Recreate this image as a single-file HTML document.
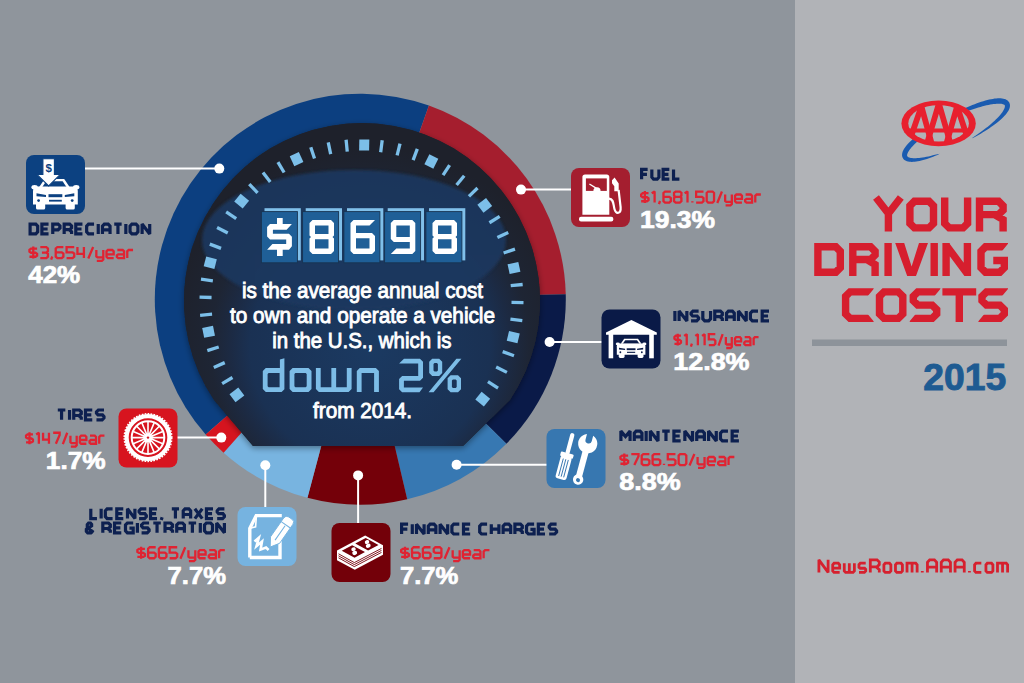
<!DOCTYPE html>
<html><head><meta charset="utf-8"><style>html,body{margin:0;padding:0;background:#8f959c;overflow:hidden}svg{display:block}</style></head>
<body><svg width="1024" height="683" viewBox="0 0 1024 683"><rect x="0" y="0" width="795" height="683" fill="#8f959c"/>
<rect x="795" y="0" width="229" height="683" fill="#b1b3b7"/>
<path d="M360.30,299.20 L205.68,434.56 A205.5,205.5 0 0 1 428.90,105.49 Z" fill="#0c3f80"/>
<path d="M360.30,299.20 L428.90,105.49 A205.5,205.5 0 0 1 565.74,294.18 Z" fill="#a51e2e"/>
<path d="M360.30,299.20 L565.74,294.18 A205.5,205.5 0 0 1 506.37,443.75 Z" fill="#0a1a48"/>
<path d="M360.30,299.20 L506.37,443.75 A205.5,205.5 0 0 1 407.23,499.27 Z" fill="#3778b2"/>
<path d="M360.30,299.20 L407.23,499.27 A205.5,205.5 0 0 1 307.46,497.79 Z" fill="#740009"/>
<path d="M360.30,299.20 L307.46,497.79 A205.5,205.5 0 0 1 223.60,452.63 Z" fill="#78b4e0"/>
<path d="M360.30,299.20 L223.60,452.63 A205.5,205.5 0 0 1 205.68,434.56 Z" fill="#d6141f"/>
<defs><filter id="sh" x="-20%" y="-20%" width="140%" height="140%"><feGaussianBlur in="SourceAlpha" stdDeviation="3"/><feOffset dx="0" dy="2"/><feComponentTransfer><feFuncA type="linear" slope="0.4"/></feComponentTransfer><feMerge><feMergeNode/><feMergeNode in="SourceGraphic"/></feMerge></filter><filter id="bl" x="-20%" y="-20%" width="140%" height="140%"><feGaussianBlur stdDeviation="5"/></filter><filter id="bl2" x="-20%" y="-20%" width="140%" height="140%"><feGaussianBlur stdDeviation="1.5"/></filter><clipPath id="dc"><path d="M253,446 L214.07,400.00 A178,178 0 1 1 509.93,400.00 L463,446 Z"/></clipPath></defs>
<defs><radialGradient id="dg" gradientUnits="userSpaceOnUse" cx="370" cy="347" r="200"><stop offset="0" stop-color="#1b3a62"/><stop offset="0.6" stop-color="#1a3153"/><stop offset="0.7" stop-color="#1c2a43"/><stop offset="0.8" stop-color="#1e2534"/><stop offset="1" stop-color="#1e212b"/></radialGradient></defs>
<path d="M253,446 L214.07,400.00 A178,178 0 1 1 509.93,400.00 L463,446 Z" fill="#1e212b" filter="url(#sh)"/>
<path d="M253,446 L214.07,400.00 A178,178 0 1 1 509.93,400.00 L463,446 Z" fill="url(#dg)"/>
<g clip-path="url(#dc)"><ellipse cx="354" cy="240" rx="152" ry="70" fill="#1c385e" opacity="0.92" filter="url(#bl2)"/></g>
<rect x="-5" y="-5.5" width="10" height="11" fill="#7cbfe9" transform="translate(236.91,394.88) rotate(-127.00)"/>
<rect x="-1.8" y="-6" width="3.3" height="12" fill="#7cbfe9" transform="translate(227.22,380.41) rotate(-120.60)"/>
<rect x="-1.8" y="-6" width="3.3" height="12" fill="#7cbfe9" transform="translate(219.21,364.95) rotate(-114.20)"/>
<rect x="-1.8" y="-6" width="3.3" height="12" fill="#7cbfe9" transform="translate(212.97,348.69) rotate(-107.80)"/>
<rect x="-5" y="-5.5" width="10" height="11" fill="#7cbfe9" transform="translate(208.58,331.83) rotate(-101.40)"/>
<rect x="-1.8" y="-6" width="3.3" height="12" fill="#7cbfe9" transform="translate(206.09,314.60) rotate(-95.00)"/>
<rect x="-1.8" y="-6" width="3.3" height="12" fill="#7cbfe9" transform="translate(205.55,297.19) rotate(-88.60)"/>
<rect x="-1.8" y="-6" width="3.3" height="12" fill="#7cbfe9" transform="translate(206.94,279.83) rotate(-82.20)"/>
<rect x="-5" y="-5.5" width="10" height="11" fill="#7cbfe9" transform="translate(210.27,262.73) rotate(-75.80)"/>
<rect x="-1.8" y="-6" width="3.3" height="12" fill="#7cbfe9" transform="translate(215.47,246.11) rotate(-69.40)"/>
<rect x="-1.8" y="-6" width="3.3" height="12" fill="#7cbfe9" transform="translate(222.50,230.18) rotate(-63.00)"/>
<rect x="-1.8" y="-6" width="3.3" height="12" fill="#7cbfe9" transform="translate(231.26,215.13) rotate(-56.60)"/>
<rect x="-5" y="-5.5" width="10" height="11" fill="#7cbfe9" transform="translate(241.65,201.14) rotate(-50.20)"/>
<rect x="-1.8" y="-6" width="3.3" height="12" fill="#7cbfe9" transform="translate(253.53,188.41) rotate(-43.80)"/>
<rect x="-1.8" y="-6" width="3.3" height="12" fill="#7cbfe9" transform="translate(266.75,177.07) rotate(-37.40)"/>
<rect x="-1.8" y="-6" width="3.3" height="12" fill="#7cbfe9" transform="translate(281.15,167.28) rotate(-31.00)"/>
<rect x="-5" y="-5.5" width="10" height="11" fill="#7cbfe9" transform="translate(296.56,159.16) rotate(-24.60)"/>
<rect x="-1.8" y="-6" width="3.3" height="12" fill="#7cbfe9" transform="translate(312.78,152.80) rotate(-18.20)"/>
<rect x="-1.8" y="-6" width="3.3" height="12" fill="#7cbfe9" transform="translate(329.60,148.30) rotate(-11.80)"/>
<rect x="-1.8" y="-6" width="3.3" height="12" fill="#7cbfe9" transform="translate(346.82,145.69) rotate(-5.40)"/>
<rect x="-5" y="-5.5" width="10" height="11" fill="#7cbfe9" transform="translate(364.22,145.02) rotate(1.00)"/>
<rect x="-1.8" y="-6" width="3.3" height="12" fill="#7cbfe9" transform="translate(381.59,146.30) rotate(7.40)"/>
<rect x="-1.8" y="-6" width="3.3" height="12" fill="#7cbfe9" transform="translate(398.71,149.50) rotate(13.80)"/>
<rect x="-1.8" y="-6" width="3.3" height="12" fill="#7cbfe9" transform="translate(415.37,154.60) rotate(20.20)"/>
<rect x="-5" y="-5.5" width="10" height="11" fill="#7cbfe9" transform="translate(431.35,161.51) rotate(26.60)"/>
<rect x="-1.8" y="-6" width="3.3" height="12" fill="#7cbfe9" transform="translate(446.46,170.17) rotate(33.00)"/>
<rect x="-1.8" y="-6" width="3.3" height="12" fill="#7cbfe9" transform="translate(460.52,180.45) rotate(39.40)"/>
<rect x="-1.8" y="-6" width="3.3" height="12" fill="#7cbfe9" transform="translate(473.34,192.24) rotate(45.80)"/>
<rect x="-5" y="-5.5" width="10" height="11" fill="#7cbfe9" transform="translate(484.76,205.39) rotate(52.20)"/>
<rect x="-1.8" y="-6" width="3.3" height="12" fill="#7cbfe9" transform="translate(494.65,219.72) rotate(58.60)"/>
<rect x="-1.8" y="-6" width="3.3" height="12" fill="#7cbfe9" transform="translate(502.88,235.07) rotate(65.00)"/>
<rect x="-1.8" y="-6" width="3.3" height="12" fill="#7cbfe9" transform="translate(509.35,251.24) rotate(71.40)"/>
<rect x="-5" y="-5.5" width="10" height="11" fill="#7cbfe9" transform="translate(513.98,268.03) rotate(77.80)"/>
<rect x="-1.8" y="-6" width="3.3" height="12" fill="#7cbfe9" transform="translate(516.70,285.24) rotate(84.20)"/>
<rect x="-1.8" y="-6" width="3.3" height="12" fill="#7cbfe9" transform="translate(517.49,302.63) rotate(90.60)"/>
<rect x="-1.8" y="-6" width="3.3" height="12" fill="#7cbfe9" transform="translate(516.34,320.01) rotate(97.00)"/>
<rect x="-5" y="-5.5" width="10" height="11" fill="#7cbfe9" transform="translate(513.25,337.15) rotate(103.40)"/>
<rect x="-1.8" y="-6" width="3.3" height="12" fill="#7cbfe9" transform="translate(508.28,353.84) rotate(109.80)"/>
<rect x="-1.8" y="-6" width="3.3" height="12" fill="#7cbfe9" transform="translate(501.47,369.87) rotate(116.20)"/>
<rect x="-1.8" y="-6" width="3.3" height="12" fill="#7cbfe9" transform="translate(492.92,385.05) rotate(122.60)"/>
<rect x="-5" y="-5.5" width="10" height="11" fill="#7cbfe9" transform="translate(482.73,399.17) rotate(129.00)"/>
<rect x="264.5" y="208.2" width="36.3" height="52.2" fill="#80c0ea"/>
<rect x="261.4" y="211.6" width="36" height="51.2" fill="#1f5f97" stroke="#173452" stroke-width="0.9"/>
<rect x="305.7" y="208.2" width="36.3" height="52.2" fill="#80c0ea"/>
<rect x="302.6" y="211.6" width="36" height="51.2" fill="#1f5f97" stroke="#173452" stroke-width="0.9"/>
<rect x="347.0" y="208.2" width="36.3" height="52.2" fill="#80c0ea"/>
<rect x="343.9" y="211.6" width="36" height="51.2" fill="#1f5f97" stroke="#173452" stroke-width="0.9"/>
<rect x="387.7" y="208.2" width="36.3" height="52.2" fill="#80c0ea"/>
<rect x="384.6" y="211.6" width="36" height="51.2" fill="#1f5f97" stroke="#173452" stroke-width="0.9"/>
<rect x="429.0" y="208.2" width="36.3" height="52.2" fill="#80c0ea"/>
<rect x="425.9" y="211.6" width="36" height="51.2" fill="#1f5f97" stroke="#173452" stroke-width="0.9"/>
<path d="M277,217.9 H282.7 V224.1 H291.9 L286.6,229.7 H272.9 V233.8 H289 L291.9,236.7 V246.3 L289,249.7 H282.7 V256.1 H277 V249.7 H267.1 L272.4,244 H286.2 V239.4 H270 L267.1,236.5 V227 L270,224.1 H277 ZM312.5,219.9 H331.0 L334.0,222.9 V235.4 L332.5,236.9 L334.0,238.4 V250.9 L331.0,253.9 H312.5 L309.5,250.9 V238.4 L311.0,236.9 L309.5,235.4 V222.9 ZM315.0,225.4 H328.5 V234.0 H315.0 ZM315.0,239.3 H328.5 V248.4 H315.0 ZM353.5,219.9 H375.0 L369.5,225.4 H356.0 V233.1 H372.0 L375.0,236.1 V250.9 L372.0,253.9 H353.5 L350.5,250.9 V222.9 ZM356.0,238.20000000000002 H369.5 V248.4 H356.0 ZM393.8,219.9 H412.3 L415.3,222.9 V250.9 L412.3,253.9 H390.8 L396.3,248.4 H409.8 V241.9 H393.8 L390.8,238.9 V222.9 ZM396.3,225.4 H409.8 V237.0 H396.3 ZM435.5,219.9 H454.0 L457.0,222.9 V235.4 L455.5,236.9 L457.0,238.4 V250.9 L454.0,253.9 H435.5 L432.5,250.9 V238.4 L434.0,236.9 L432.5,235.4 V222.9 ZM438.0,225.4 H451.5 V234.0 H438.0 ZM438.0,239.3 H451.5 V248.4 H438.0 Z" fill="#ffffff" fill-rule="evenodd"/>
<text x="241.9" y="297.7" font-family="Liberation Sans, sans-serif" font-size="22" font-weight="normal" fill="#fff" text-anchor="start" textLength="241.2" lengthAdjust="spacingAndGlyphs" stroke="#fff" stroke-width="0.9">is the average annual cost</text>
<text x="230" y="322.7" font-family="Liberation Sans, sans-serif" font-size="22" font-weight="normal" fill="#fff" text-anchor="start" textLength="265" lengthAdjust="spacingAndGlyphs" stroke="#fff" stroke-width="0.9">to own and operate a vehicle</text>
<text x="272.2" y="347.8" font-family="Liberation Sans, sans-serif" font-size="22" font-weight="normal" fill="#fff" text-anchor="start" textLength="179.3" lengthAdjust="spacingAndGlyphs" stroke="#fff" stroke-width="0.9">in the U.S., which is</text>
<text x="313" y="417.6" font-family="Liberation Sans, sans-serif" font-size="22" font-weight="normal" fill="#fff" text-anchor="start" textLength="99" lengthAdjust="spacingAndGlyphs" stroke="#fff" stroke-width="0.9">from 2014.</text>
<path d="M265.8,368.1 H279.9 V359.6 L284.4,358.2 V389.2 L281.6,392 H265.8 L262.8,389 V371.1 Z M268.6,372.9 H279.6 V387.2 H268.6 L267.6,386.2 V373.9 Z M292.6,368.1 H308.5 L311.5,371.1 V389 L308.5,392 H292.6 L289.6,389 V371.1 ZM295.40000000000003,372.90000000000003 H305.7 L306.7,373.90000000000003 V386.2 L305.7,387.2 H295.40000000000003 L294.40000000000003,386.2 V373.90000000000003 Z M315.9,368.1 H320.7 V387.2 H331.35 V368.1 H336.15 V387.2 H346.8 V368.1 H351.6 V389 L348.6,392 H318.9 L315.9,389 Z M356.8,392 V371.1 L359.8,368.1 H375.9 L378.9,371.1 V392 H374.1 V372.9 H361.6 V392 Z M404,358.8 H420 L423,361.8 V377.7 L420,380.7 H403.9 V387.5 H423 L419.5,392.3 H402.1 L399.1,389.3 V378.9 L402.1,375.9 H418.2 V363.6 H399.1 Z M432.2,358.8 H439.2 L442.2,361.8 V372.9 L439.2,375.9 H432.2 L429.2,372.9 V361.8 ZM434.5,363.1 H436.9 L437.9,364.1 V370.59999999999997 L436.9,371.59999999999997 H434.5 L433.5,370.59999999999997 V364.1 Z M450.6,375.2 H458 L461,378.2 V389.3 L458,392.3 H450.6 L447.6,389.3 V378.2 ZM452.90000000000003,379.5 H455.7 L456.7,380.5 V387.0 L455.7,388.0 H452.90000000000003 L451.90000000000003,387.0 V380.5 Z M428.6,392.3 H433.6 L461.4,358.8 H456.4 Z" fill="#7dbde7" fill-rule="evenodd"/>
<line x1="219.3" y1="168.6" x2="84.5" y2="168.6" stroke="#fff" stroke-width="2"/>
<circle cx="219.3" cy="168.6" r="5" fill="#fff"/>
<line x1="521" y1="189.6" x2="571" y2="189.6" stroke="#fff" stroke-width="2"/>
<circle cx="521" cy="189.6" r="5" fill="#fff"/>
<line x1="549.6" y1="342" x2="602" y2="342" stroke="#fff" stroke-width="2"/>
<circle cx="549.6" cy="342" r="5" fill="#fff"/>
<line x1="456.6" y1="464.8" x2="547" y2="464.8" stroke="#fff" stroke-width="2"/>
<circle cx="456.6" cy="464.8" r="5" fill="#fff"/>
<line x1="358.1" y1="475.4" x2="358.1" y2="523" stroke="#fff" stroke-width="2"/>
<circle cx="358.1" cy="475.4" r="5" fill="#fff"/>
<line x1="265.3" y1="465.3" x2="265.3" y2="507" stroke="#fff" stroke-width="2"/>
<circle cx="265.3" cy="465.3" r="5" fill="#fff"/>
<line x1="221.3" y1="437.6" x2="177" y2="437.6" stroke="#fff" stroke-width="2"/>
<circle cx="221.3" cy="437.6" r="5" fill="#fff"/>
<rect x="26" y="155" width="59" height="59" rx="8" fill="#0c4181"/>
<rect x="571" y="168" width="59" height="59" rx="8" fill="#a41e2f"/>
<rect x="601.5" y="309.5" width="59" height="59" rx="8" fill="#0a1a47"/>
<rect x="546.5" y="429" width="59" height="59" rx="8" fill="#3777b0"/>
<rect x="331.5" y="523" width="59" height="59" rx="8" fill="#730009"/>
<rect x="237.5" y="507" width="59" height="59" rx="8" fill="#76b3e0"/>
<rect x="118.5" y="408.5" width="59" height="59" rx="8" fill="#d7141f"/>
<g><path d="M39.2,187 L44.6,179 H64.2 L69.6,187 Z" fill="#ffffff"/><path d="M42.3,187 L46.2,181.2 H62.6 L66.5,187 Z" fill="#0c4181"/><ellipse cx="34.6" cy="187.2" rx="3.2" ry="2.2" fill="#ffffff"/><ellipse cx="76.2" cy="187.2" rx="3.2" ry="2.2" fill="#ffffff"/><path d="M33,191 Q33,186.5 38,186.5 H72.8 Q77.8,186.5 77.8,191 V204.5 H33 Z" fill="#ffffff"/><rect x="36" y="202" width="9.2" height="7.6" rx="1.6" fill="#ffffff"/><rect x="65.6" y="202" width="9.2" height="7.6" rx="1.6" fill="#ffffff"/><path d="M36.5,193.2 L46,195 V197 L36.5,196.2 Z M74.3,193.2 L64.8,195 V197 L74.3,196.2 Z" fill="#0c4181"/><rect x="48.5" y="194.2" width="13.8" height="3" fill="#0c4181"/><rect x="49" y="199.8" width="12.8" height="1.8" fill="#0c4181"/><circle cx="38.6" cy="200.6" r="1.4" fill="#0c4181"/><circle cx="72.2" cy="200.6" r="1.4" fill="#0c4181"/><path d="M42.9,158.8 H54.4 V174.4 H60.3 L48.65,186 L36.9,174.4 H42.9 Z" fill="#ffffff" stroke="#0c4181" stroke-width="1.1"/><text x="48.65" y="172.3" font-family="Liberation Sans, sans-serif" font-weight="bold" font-size="11.5" fill="#0c4181" text-anchor="middle">$</text></g>
<g><path d="M582.4,214.8 V177 Q582.4,174.5 585,174.5 H606.7 Q609.3,174.5 609.3,177 V214.8 Z" fill="#ffffff"/><rect x="585.9" y="178.4" width="20.9" height="12.5" fill="#a41e2f"/><path d="M593.4,190.9 A3.6,3.6 0 0 1 600.6,190.9 Z" fill="#ffffff"/><path d="M589.4,184 L596.5,188.4" stroke="#ffffff" stroke-width="1.3"/><rect x="579" y="216.8" width="34.3" height="4.6" rx="2" fill="#ffffff"/><path d="M609,198.6 C614,198.6 613.2,205 614.6,209.5 C616.2,214.5 621.2,214 620.6,207 L618.6,190" fill="none" stroke="#ffffff" stroke-width="2.2"/><path d="M612,180.3 L614.6,177.6 L618.7,183.6 V191.2 H614.3 V186.2 L612,183.2 Z" fill="#ffffff"/></g>
<g><path d="M631.4,319.9 L656.8,332.4 V334.8 H606 V332.4 Z" fill="#ffffff"/><rect x="608.6" y="333" width="4.6" height="25.3" fill="#ffffff"/><rect x="649.2" y="333" width="4.6" height="25.3" fill="#ffffff"/><path d="M620.7580357142857,343.787012987013 L624.2053571428571,338.8 H637.9946428571428 L641.4419642857142,343.787012987013 Z" fill="#ffffff"/><path d="M622.7370535714285,343.787012987013 L625.2267857142857,340.1714285714286 H636.9732142857142 L639.4629464285714,343.787012987013 Z" fill="#0a1a47"/><ellipse cx="617.8214285714286" cy="343.9116883116883" rx="2.042857142857143" ry="1.3714285714285714" fill="#ffffff"/><ellipse cx="644.3785714285714" cy="343.9116883116883" rx="2.042857142857143" ry="1.3714285714285714" fill="#ffffff"/><path d="M616.8,346.2805194805195 Q616.8,343.4753246753247 619.9919642857143,343.4753246753247 H642.2080357142856 Q645.4,343.4753246753247 645.4,346.2805194805195 V354.6961038961039 H616.8 Z" fill="#ffffff"/><rect x="618.7151785714285" y="353.13766233766233" width="5.873214285714286" height="4.7376623376623375" rx="1.4" fill="#ffffff"/><rect x="637.6116071428571" y="353.13766233766233" width="5.873214285714286" height="4.7376623376623375" rx="1.4" fill="#ffffff"/><path d="M619.034375,347.65194805194807 L625.0991071428571,348.77402597402596 V350.0207792207792 L619.034375,349.5220779220779 Z M643.165625,347.65194805194807 L637.1008928571429,348.77402597402596 V350.0207792207792 L643.165625,349.5220779220779 Z" fill="#0a1a47"/><rect x="626.6950892857143" y="348.27532467532467" width="8.80982142857143" height="1.87012987012987" fill="#0a1a47"/><rect x="627.0142857142856" y="351.76623376623377" width="8.171428571428573" height="1.122077922077922" fill="#0a1a47"/><circle cx="620.375" cy="352.26493506493506" r="0.89375" fill="#0a1a47"/><circle cx="641.8249999999999" cy="352.26493506493506" r="0.89375" fill="#0a1a47"/></g>
<g transform="translate(572.8,433.2) rotate(15)"><rect x="-2.1" y="0" width="4.2" height="22" rx="2" fill="#ffffff"/><rect x="-6.6" y="20.5" width="13.2" height="4.5" rx="1" fill="#ffffff"/><rect x="-5.6" y="24" width="11.2" height="23.5" rx="2.4" fill="#ffffff"/><path d="M-2.6,27 V45 M0,27 V45 M2.6,27 V45" stroke="#3777b0" stroke-width="0.9"/></g>
<g transform="translate(587.6,444.2) rotate(15)"><path d="M-3.2,-9.6 A9.6,9.6 0 1 0 3.2,-9.6 L3.2,-4 A3.2,3.2 0 0 1 -3.2,-4 Z" fill="#ffffff"/><rect x="-3.1" y="3" width="6.2" height="33" fill="#ffffff"/><circle cx="0" cy="36.6" r="5.2" fill="#ffffff"/><circle cx="0" cy="37.2" r="2" fill="#3777b0"/></g>
<g><path d="M337.00,550.60 L365.20,535.60 L383.00,545.20 L383.00,554.80 L354.80,569.80 L337.00,560.20 Z" fill="#ffffff"/><path d="M338.50,553.80 L354.30,562.60 L381.50,548.40 M338.50,555.80 L354.30,564.60 L381.50,550.40 M338.50,557.80 L354.30,566.60 L381.50,552.40 " fill="none" stroke="#730009" stroke-width="0.9"/><path d="M341.75,550.74 L352.18,545.19 L365.00,552.11 L354.56,557.66Z M355.28,543.54 L365.72,537.99 L378.53,544.91 L368.10,550.46Z" fill="#730009"/><ellipse cx="353.51" cy="549.25" rx="2.3" ry="1.9" fill="#ffffff" transform="rotate(-28 353.51 549.25)"/><ellipse cx="354.71" cy="552.95" rx="2.5" ry="2.1" fill="#ffffff" transform="rotate(-28 354.71 552.95)"/><ellipse cx="367.05" cy="542.05" rx="2.3" ry="1.9" fill="#ffffff" transform="rotate(-28 367.05 542.05)"/><ellipse cx="368.25" cy="545.75" rx="2.5" ry="2.1" fill="#ffffff" transform="rotate(-28 368.25 545.75)"/></g>
<g fill="none" stroke="#ffffff" stroke-linejoin="miter"><path d="M249.8,557.5 V528.5 L256.2,515.6 H281.8" stroke-width="3.4"/><path d="M280,537 V557.5 H249.8" stroke-width="3.4"/><path d="M250.2,528.2 L255.6,526.8 L256.4,516" stroke-width="1.6"/><path d="M254.5,541.5 L258.8,537.8 L256.5,546.2 L262,541.6 L260.6,549.6 L266,547.6 L268.6,550" stroke-width="2.6"/></g>
<g transform="translate(289.4,519.6) rotate(35)"><path d="M-5.6,2 Q-5.6,-1.8 -2,-1.8 H2 Q5.6,-1.8 5.6,2 V25 L0,33.5 L-5.6,25 Z" fill="#ffffff" stroke="#76b3e0" stroke-width="0.9"/><path d="M-5.6,6.4 H5.6 M0,7.5 V25" stroke="#76b3e0" stroke-width="1.1"/></g>
<g><circle cx="148" cy="437.6" r="21.4" fill="none" stroke="#ffffff" stroke-width="4.2"/><circle cx="148" cy="437.6" r="23.8" fill="none" stroke="#ffffff" stroke-width="1.5" stroke-dasharray="1.7 1.3"/><circle cx="148" cy="437.6" r="16.3" fill="none" stroke="#ffffff" stroke-width="2"/><path d="M150.50,437.60 L164.00,437.60 M150.31,438.56 L162.78,443.72 M149.77,439.37 L159.31,448.91 M148.96,439.91 L154.12,452.38 M148.00,440.10 L148.00,453.60 M147.04,439.91 L141.88,452.38 M146.23,439.37 L136.69,448.91 M145.69,438.56 L133.22,443.72 M145.50,437.60 L132.00,437.60 M145.69,436.64 L133.22,431.48 M146.23,435.83 L136.69,426.29 M147.04,435.29 L141.88,422.82 M148.00,435.10 L148.00,421.60 M148.96,435.29 L154.12,422.82 M149.77,435.83 L159.31,426.29 M150.31,436.64 L162.78,431.48 " stroke="#ffffff" stroke-width="1.6"/><circle cx="148" cy="437.6" r="3.6" fill="#ffffff"/><circle cx="148" cy="437.6" r="1.2" fill="#d7141f"/></g>
<text x="28.2" y="283.4" font-family="Liberation Sans, sans-serif" font-size="23.5" font-weight="bold" fill="#fff" text-anchor="start" textLength="52" lengthAdjust="spacingAndGlyphs" stroke="#fff" stroke-width="0.7">42%</text>
<text x="640" y="228" font-family="Liberation Sans, sans-serif" font-size="23.5" font-weight="bold" fill="#fff" text-anchor="start" textLength="75" lengthAdjust="spacingAndGlyphs" stroke="#fff" stroke-width="0.7">19.3%</text>
<text x="673.3" y="370" font-family="Liberation Sans, sans-serif" font-size="23.5" font-weight="bold" fill="#fff" text-anchor="start" textLength="76.2" lengthAdjust="spacingAndGlyphs" stroke="#fff" stroke-width="0.7">12.8%</text>
<text x="619.3" y="489.7" font-family="Liberation Sans, sans-serif" font-size="23.5" font-weight="bold" fill="#fff" text-anchor="start" textLength="61.4" lengthAdjust="spacingAndGlyphs" stroke="#fff" stroke-width="0.7">8.8%</text>
<text x="400" y="583.8" font-family="Liberation Sans, sans-serif" font-size="23.5" font-weight="bold" fill="#fff" text-anchor="start" textLength="58.4" lengthAdjust="spacingAndGlyphs" stroke="#fff" stroke-width="0.7">7.7%</text>
<text x="226" y="583.6" font-family="Liberation Sans, sans-serif" font-size="23.5" font-weight="bold" fill="#fff" text-anchor="end" textLength="58.4" lengthAdjust="spacingAndGlyphs" stroke="#fff" stroke-width="0.7">7.7%</text>
<text x="105.6" y="469.2" font-family="Liberation Sans, sans-serif" font-size="23.5" font-weight="bold" fill="#fff" text-anchor="end" textLength="59.8" lengthAdjust="spacingAndGlyphs" stroke="#fff" stroke-width="0.7">1.7%</text>
<path d="M30.1,224.1H35.84L37.69,226.06V231.94L35.84,233.9H30.1ZM48.55,224.1H41.89V233.9H48.55M41.89,229H47.63M52.75,233.9V224.1H58.12L59.97,225.86V228.02L58.12,229.78H52.75M64.17,233.9V224.1H69.73L71.58,225.86V227.82L69.73,229.59H64.17M68.99,229.59L71.58,231.74V233.9M82.44,224.1H75.78V233.9H82.44M75.78,229H81.52M94.05,224.1H88.49L86.64,226.06V231.94L88.49,233.9H94.05M98.25,224.1V233.9M102.45,233.9V226.06L104.3,224.1H108.19L110.04,226.06V233.9M102.45,229.78H110.04M114.24,224.1H121.64M117.94,224.1V233.9M125.84,224.1V233.9M131.89,224.1H136.06L137.91,226.06V231.94L136.06,233.9H131.89L130.04,231.94V226.06ZM142.11,233.9V224.1L149.7,233.9V224.1M647.64,169.4H641.6V179.2M641.6,174.3H646.95M651.84,169.4V177.24L653.57,179.2H657.19L658.92,177.24V169.4M669.33,169.4H663.12V179.2H669.33M663.12,174.3H668.47M673.53,169.4V179.2H679.4M674.9,311.1V320.9M679.1,320.9V311.1L686.85,320.9V311.1M698.61,311.1H692.94L691.05,313.06V314.24L692.56,316H697.1L698.61,317.76V318.94L696.72,320.9H691.05M702.81,311.1V318.94L704.7,320.9H708.68L710.57,318.94V311.1M714.77,320.9V311.1H720.44L722.33,312.86V314.82L720.44,316.59H714.77M719.68,316.59L722.33,318.74V320.9M726.53,320.9V313.06L728.42,311.1H732.39L734.28,313.06V320.9M726.53,316.78H734.28M738.48,320.9V311.1L746.23,320.9V311.1M757.99,311.1H752.32L750.43,313.06V318.94L752.32,320.9H757.99M769,311.1H762.19V320.9H769M762.19,316H768.05M620.9,440.9V431.1L625.49,436.49L630.07,431.1V440.9M634.27,440.9V433.06L636.14,431.1H640.08L641.95,433.06V440.9M634.27,436.78H641.95M646.15,431.1V440.9M650.35,440.9V431.1L658.02,440.9V431.1M662.22,431.1H669.71M665.97,431.1V440.9M680.65,431.1H673.91V440.9H680.65M673.91,436H679.71M684.85,440.9V431.1L692.52,440.9V431.1M696.72,440.9V433.06L698.6,431.1H702.53L704.4,433.06V440.9M696.72,436.78H704.4M708.6,440.9V431.1L716.27,440.9V431.1M727.96,431.1H722.35L720.47,433.06V438.94L722.35,440.9H727.96M738.9,431.1H732.16V440.9H738.9M732.16,436H737.96M408.09,524.2H401.6V534M401.6,529.1H407.35M412.29,524.2V534M416.49,534V524.2L424.09,534V524.2M428.29,534V526.16L430.14,524.2H434.03L435.89,526.16V534M428.29,529.88H435.89M440.09,534V524.2L447.69,534V524.2M459.3,524.2H453.74L451.89,526.16V532.04L453.74,534H459.3M470.17,524.2H463.5V534H470.17M463.5,529.1H469.25M487.1,524.2H481.54L479.69,526.16V532.04L481.54,534H487.1M491.3,524.2V534M498.9,524.2V534M491.3,529.1H498.9M503.1,534V526.16L504.95,524.2H508.85L510.7,526.16V534M503.1,529.88H510.7M514.9,534V524.2H520.46L522.31,525.96V527.92L520.46,529.69H514.9M519.72,529.69L522.31,531.84V534M534.11,524.2H528.37L526.51,526.16V532.04L528.37,534H534.11V529.3H530.41M544.99,524.2H538.31V534H544.99M538.31,529.1H544.06M556.6,524.2H551.04L549.19,526.16V527.34L550.67,529.1H555.12L556.6,530.86V532.04L554.75,534H549.19M90.8,508.8V518.6H96.95M101.15,508.8V518.6M112.58,508.8H107.15L105.35,510.76V516.64L107.15,518.6H112.58M123.29,508.8H116.78V518.6H123.29M116.78,513.7H122.38M127.49,518.6V508.8L134.9,518.6V508.8M146.33,508.8H140.91L139.1,510.76V511.94L140.54,513.7H144.88L146.33,515.46V516.64L144.52,518.6H139.1M157.04,508.8H150.53V518.6H157.04M150.53,513.7H156.13M162.14,517.23L161.24,519.97M171.81,508.8H179.04M175.42,508.8V518.6M183.24,518.6V510.76L185.04,508.8H188.84L190.65,510.76V518.6M183.24,514.48H190.65M194.85,508.8L202.26,518.6M202.26,508.8L194.85,518.6M212.97,508.8H206.46V518.6H212.97M206.46,513.7H212.06M224.4,508.8H218.98L217.17,510.76V511.94L218.62,513.7H222.95L224.4,515.46V516.64L222.59,518.6H217.17M93.3,532.8L87.29,527.41V524.57L88.6,523H90.48L91.61,524.37V525.94L86.35,529.27V531.43L87.67,532.8H90.86L93.11,530.06M102.82,532.8V523H108.46L110.33,524.76V526.72L108.46,528.49H102.82M107.7,528.49L110.33,530.64V532.8M121.29,523H114.53V532.8H121.29M114.53,527.9H120.35M133.19,523H127.37L125.49,524.96V530.84L127.37,532.8H133.19V528.1H129.43M137.39,523V532.8M149.1,523H143.47L141.59,524.96V526.14L143.09,527.9H147.6L149.1,529.66V530.84L147.22,532.8H141.59M153.3,523H160.81M157.05,523V532.8M165.01,532.8V523H170.64L172.52,524.76V526.72L170.64,528.49H165.01M169.89,528.49L172.52,530.64V532.8M176.72,532.8V524.96L178.59,523H182.54L184.41,524.96V532.8M176.72,528.68H184.41M188.61,523H196.12M192.37,523V532.8M200.32,523V532.8M206.4,523H210.63L212.5,524.96V530.84L210.63,532.8H206.4L204.52,530.84V524.96ZM216.7,532.8V523L224.4,532.8V523M57.8,410H65.34M61.57,410V419.8M69.54,410V419.8M73.74,419.8V410H79.39L81.28,411.76V413.72L79.39,415.49H73.74M78.64,415.49L81.28,417.64V419.8M92.26,410H85.48V419.8H92.26M85.48,414.9H91.32M104,410H98.35L96.46,411.96V413.14L97.97,414.9H102.49L104,416.66V417.84L102.12,419.8H96.46" fill="none" stroke="#0d2050" stroke-width="3.2" stroke-linejoin="miter" stroke-miterlimit="2"/>
<path d="M37.1,248.59H31.07L29.45,249.91V251.67L31.07,252.77H35.47L37.1,253.87V255.63L35.47,256.73H29.45M33.27,246.61V258.49M40.3,247.05H46.32L47.94,248.48V251.23L46.32,252.55H41.92M46.32,252.55L47.94,253.87V256.62L46.32,258.05H40.3M52.3,256.51L51.14,259.59M63.38,247.05H57.36L55.73,248.48V256.62L57.36,258.05H61.76L63.38,256.62V253.65L61.76,252.33H55.73M74.23,247.05H66.58V252.33H72.6L74.23,253.65V256.62L72.6,258.05H66.58M77.43,247.05V253.87H85.07M83.91,247.05V258.05M93.14,247.05L88.27,258.49M96.34,250.02V256.51L97.5,257.39H103.29M103.29,250.02V259.59L101.9,260.91H96.8M113.67,258.05H107.88L106.49,256.73V251.34L107.88,250.02H112.28L113.67,251.34V254.31H106.49M117.34,250.02H122.67L124.06,251.34V258.05H118.26L116.87,256.95V255.41L118.26,254.31H124.06M127.26,258.05V251.34L128.65,250.02H133.05M648.51,193.09H642.71L641.15,194.41V196.17L642.71,197.27H646.95L648.51,198.37V200.13L646.95,201.23H641.15M644.83,191.11V202.99M651.71,193.31L654.61,191.55V202.55M660.05,201.01L658.93,204.09M670.83,191.55H665.03L663.47,192.98V201.12L665.03,202.55H669.27L670.83,201.12V198.15L669.27,196.83H663.47M675.59,191.55H679.83L681.4,192.87V195.62L680.06,196.83L681.4,198.04V201.23L679.83,202.55H675.59L674.03,201.23V198.04L675.37,196.83L674.03,195.62V192.87ZM675.37,196.83H680.06M684.6,193.31L687.5,191.55V202.55M692.37,201.23V202.55M703.49,191.55H696.13V196.83H701.93L703.49,198.15V201.12L701.93,202.55H696.13M708.14,191.55H712.61L714.06,192.98V201.12L712.61,202.55H708.14L706.69,201.12V192.98ZM721.94,191.55L717.26,202.99M725.14,194.52V201.01L726.26,201.89H731.84M731.84,194.52V204.09L730.5,205.41H725.59M741.95,202.55H736.38L735.04,201.23V195.84L736.38,194.52H740.62L741.95,195.84V198.81H735.04M745.6,194.52H750.73L752.07,195.84V202.55H746.49L745.15,201.45V199.91L746.49,198.81H752.07M755.27,202.55V195.84L756.61,194.52H760.85M680.96,335.69H675.83L674.45,337.01V338.77L675.83,339.87H679.58L680.96,340.97V342.73L679.58,343.83H674.45M677.71,333.71V345.59M684.16,335.91L686.73,334.15V345.15M691.9,343.61L690.91,346.69M695.3,335.91L697.86,334.15V345.15M702.05,335.91L704.62,334.15V345.15M715.32,334.15H708.8V339.43H713.93L715.32,340.75V343.72L713.93,345.15H708.8M722.66,334.15L718.52,345.59M725.86,337.12V343.61L726.85,344.49H731.78M731.78,337.12V346.69L730.6,348.01H726.25M741.1,345.15H736.16L734.98,343.83V338.44L736.16,337.12H739.91L741.1,338.44V341.41H734.98M744.69,337.12H749.23L750.42,338.44V345.15H745.48L744.3,344.05V342.51L745.48,341.41H750.42M753.62,345.15V338.44L754.8,337.12H758.55M628.11,455.59H622.08L620.45,456.91V458.67L622.08,459.77H626.49L628.11,460.87V462.63L626.49,463.73H620.45M624.28,453.61V465.49M631.31,454.05H638.51V456.25L634.33,465.05M649.37,454.05H643.33L641.71,455.48V463.62L643.33,465.05H647.74L649.37,463.62V460.65L647.74,459.33H641.71M660.23,454.05H654.19L652.57,455.48V463.62L654.19,465.05H658.6L660.23,463.62V460.65L658.6,459.33H652.57M664.01,463.73V465.05M675.45,454.05H667.79V459.33H673.83L675.45,460.65V463.62L673.83,465.05H667.79M680.16,454.05H684.8L686.31,455.48V463.62L684.8,465.05H680.16L678.65,463.62V455.48ZM694.39,454.05L689.51,465.49M697.59,457.02V463.51L698.75,464.39H704.55M704.55,457.02V466.59L703.16,467.91H698.05M714.95,465.05H709.15L707.75,463.73V458.34L709.15,457.02H713.56L714.95,458.34V461.31H707.75M718.61,457.02H723.95L725.35,458.34V465.05H719.54L718.15,463.95V462.41L719.54,461.31H725.35M728.55,465.05V458.34L729.94,457.02H734.35M408.81,548.79H402.78L401.15,550.11V551.87L402.78,552.97H407.19L408.81,554.07V555.83L407.19,556.93H401.15M404.98,546.81V558.69M419.68,547.25H413.64L412.01,548.68V556.82L413.64,558.25H418.05L419.68,556.82V553.85L418.05,552.53H412.01M430.54,547.25H424.5L422.88,548.68V556.82L424.5,558.25H428.91L430.54,556.82V553.85L428.91,552.53H422.88M441.4,552.97H435.37L433.74,551.65V548.68L435.37,547.25H439.78L441.4,548.68V556.82L439.78,558.25H433.74M449.48,547.25L444.6,558.69M452.68,550.22V556.71L453.84,557.59H459.65M459.65,550.22V559.79L458.25,561.11H453.14M470.05,558.25H464.24L462.85,556.93V551.54L464.24,550.22H468.65L470.05,551.54V554.51H462.85M473.71,550.22H479.05L480.44,551.54V558.25H474.64L473.25,557.15V555.61L474.64,554.51H480.44M483.64,558.25V551.54L485.04,550.22H489.45M144.92,548.79H138.95L137.35,550.11V551.87L138.95,552.97H143.31L144.92,554.07V555.83L143.31,556.93H137.35M141.13,546.81V558.69M155.68,547.25H149.72L148.12,548.68V556.82L149.72,558.25H154.08L155.68,556.82V553.85L154.08,552.53H148.12M166.45,547.25H160.49L158.88,548.68V556.82L160.49,558.25H164.84L166.45,556.82V553.85L164.84,552.53H158.88M177.21,547.25H169.65V552.53H175.61L177.21,553.85V556.82L175.61,558.25H169.65M185.23,547.25L180.41,558.69M188.43,550.22V556.71L189.57,557.59H195.3M195.3,550.22V559.79L193.93,561.11H188.89M205.61,558.25H199.88L198.5,556.93V551.54L199.88,550.22H204.24L205.61,551.54V554.51H198.5M209.27,550.22H214.54L215.92,551.54V558.25H210.19L208.81,557.15V555.61L210.19,554.51H215.92M219.12,558.25V551.54L220.49,550.22H224.85M32.94,434.29H27.51L26.05,435.61V437.37L27.51,438.47H31.48L32.94,439.57V441.33L31.48,442.43H26.05M29.49,432.31V444.19M36.14,434.51L38.85,432.75V443.75M43.09,432.75V439.57H49.98M48.94,432.75V443.75M53.18,432.75H59.65V434.95L55.89,443.75M67.23,432.75L62.85,444.19M70.43,435.72V442.21L71.48,443.09H76.69M76.69,435.72V445.29L75.44,446.61H70.85M86.36,443.75H81.15L79.89,442.43V437.04L81.15,435.72H85.11L86.36,437.04V440.01H79.89M89.98,435.72H94.78L96.03,437.04V443.75H90.82L89.56,442.65V441.11L90.82,440.01H96.03M99.23,443.75V437.04L100.48,435.72H104.45" fill="none" stroke="#e02332" stroke-width="2.3" stroke-linejoin="miter" stroke-miterlimit="2"/>
<path d="M939.66,153.70 L937.52,154.92 L935.33,155.87 L933.17,156.73 L931.06,157.52 L928.99,158.25 L926.97,158.91 L925.02,159.51 L923.12,160.04 L921.29,160.51 L919.53,160.91 L917.84,161.24 L916.22,161.51 L914.67,161.71 L913.20,161.83 L911.81,161.89 L910.49,161.86 L909.24,161.76 L908.06,161.57 L906.94,161.28 L905.89,160.87 L904.92,160.34 L904.04,159.67 L903.28,158.84 L902.68,157.87 L902.28,156.81 L902.07,155.69 L902.05,154.55 L902.19,153.41 L902.47,152.26 L902.89,151.12 L903.43,149.97 L904.08,148.81 L904.83,147.63 L905.70,146.44 L906.67,145.23 L907.75,143.99 L908.93,142.74 L910.20,141.47 L911.57,140.18 L913.04,138.87 L914.60,137.55 L916.24,136.22 L917.97,134.88 L919.77,133.54 L921.66,132.18 L923.62,130.83 L925.64,129.48 L927.73,128.13 L929.88,126.78 L932.09,125.45 L934.34,124.13 L936.64,122.82 L938.98,121.53 L941.36,120.25 L943.76,119.01 L946.19,117.78 L948.64,116.58 L951.03,115.27 L953.42,113.97 L955.82,112.72 L958.23,111.49 L960.63,110.31 L963.02,109.17 L965.39,108.07 L967.75,107.03 L970.09,106.03 L972.39,105.08 L974.66,104.19 L976.90,103.35 L979.09,102.57 L981.23,101.85 L983.32,101.19 L985.36,100.60 L987.34,100.07 L989.25,99.60 L991.10,99.21 L992.88,98.88 L994.59,98.62 L996.23,98.43 L997.79,98.32 L999.28,98.28 L1000.69,98.32 L1002.03,98.44 L1003.30,98.65 L1004.49,98.95 L1005.62,99.36 L1006.67,99.90 L1007.62,100.57 L1008.46,101.39 L1009.14,102.34 L1009.63,103.41 L1009.91,104.54 L1009.98,105.69 L1009.88,106.83 L1009.62,107.95 L1009.22,109.05 L1008.71,110.15 L1008.09,111.26 L1007.36,112.37 L1006.52,113.50 L1005.58,114.65 L1004.54,115.81 L1003.40,117.00 L1002.16,118.21 L1000.83,119.43 L999.41,120.68 L997.89,121.94 L996.29,123.21 L994.60,124.50 L992.84,125.80 L990.99,127.11 L989.07,128.42 L987.09,129.74 L985.03,131.05 L982.92,132.37 L980.74,133.67 L978.52,134.97 L976.24,136.24 L973.91,137.49 L971.45,138.56 L971.45,138.56 L973.58,136.93 L975.76,135.46 L977.90,133.99 L980.00,132.52 L982.04,131.05 L984.02,129.58 L985.93,128.12 L987.78,126.66 L989.55,125.22 L991.25,123.78 L992.86,122.37 L994.38,120.98 L995.82,119.61 L997.15,118.26 L998.40,116.96 L999.54,115.68 L1000.57,114.45 L1001.51,113.26 L1002.33,112.13 L1003.03,111.05 L1003.63,110.03 L1004.11,109.09 L1004.47,108.22 L1004.72,107.45 L1004.87,106.78 L1004.92,106.23 L1004.90,105.80 L1004.83,105.49 L1004.73,105.27 L1004.62,105.11 L1004.47,104.96 L1004.26,104.80 L1003.94,104.60 L1003.49,104.40 L1002.91,104.20 L1002.19,104.02 L1001.33,103.87 L1000.34,103.77 L999.22,103.72 L997.99,103.72 L996.65,103.77 L995.20,103.89 L993.65,104.06 L992.01,104.29 L990.27,104.58 L988.46,104.93 L986.56,105.34 L984.59,105.80 L982.55,106.32 L980.45,106.90 L978.29,107.53 L976.08,108.22 L973.82,108.96 L971.52,109.74 L969.17,110.58 L966.80,111.46 L964.41,112.39 L961.99,113.36 L959.55,114.37 L957.11,115.42 L954.67,116.51 L952.22,117.63 L949.79,118.79 L947.45,120.12 L945.13,121.48 L942.84,122.86 L940.58,124.26 L938.35,125.67 L936.17,127.09 L934.04,128.52 L931.96,129.95 L929.93,131.38 L927.97,132.81 L926.07,134.24 L924.24,135.65 L922.48,137.05 L920.81,138.44 L919.21,139.80 L917.70,141.14 L916.28,142.46 L914.95,143.74 L913.72,144.98 L912.59,146.19 L911.56,147.36 L910.64,148.47 L909.82,149.54 L909.11,150.54 L908.51,151.48 L908.02,152.35 L907.65,153.14 L907.37,153.84 L907.20,154.44 L907.10,154.93 L907.07,155.32 L907.09,155.62 L907.13,155.86 L907.21,156.09 L907.36,156.33 L907.60,156.60 L907.97,156.89 L908.49,157.18 L909.16,157.46 L909.96,157.71 L910.91,157.91 L911.98,158.07 L913.18,158.17 L914.49,158.21 L915.92,158.20 L917.44,158.12 L919.06,157.98 L920.78,157.78 L922.58,157.52 L924.47,157.20 L926.43,156.82 L928.46,156.38 L930.56,155.89 L932.73,155.34 L934.95,154.76 L937.24,154.14 L939.66,153.70Z" fill="#1a5bb0"/>
<ellipse cx="938.6" cy="123.4" rx="37.2" ry="22.9" fill="#e8202e"/>
<ellipse cx="938.6" cy="123.4" rx="30.3" ry="18.2" fill="#b1b3b7"/>
<clipPath id="aclip"><ellipse cx="938.6" cy="123.4" rx="36" ry="22"/></clipPath>
<g clip-path="url(#aclip)" stroke="#e8202e" stroke-width="5.8" fill="none" stroke-linejoin="miter"><path d="M909.5,141 L921.4,106.4 L931.5,143"/><path d="M927.2,143 L938.9,103.5 L950.3,143"/><path d="M946.6,143 L957.1,106.4 L968.5,141"/><path d="M905,130.5 H972" stroke-width="4.2"/></g>
<path d="M895.2,243.1 H904.2 L911.6,266.5 L919,243.1 H928 L916,275.9 H907.2 Z" fill="#d61e2e"/>
<path d="M875.9879999999999,197.6 L888.4,213.57999999999998 L900.812,197.6 M888.4,212.56 V231.6M914.4000000000001,201.29999999999998 H929.0 L933.5,205.79999999999998 V223.4 L929.0,227.9 H914.4000000000001 L909.9000000000001,223.4 V205.79999999999998 ZM944.7,197.6 V223.4 L949.2,227.9 H963.0999999999999 L967.5999999999999,223.4 V197.6M979.5,231.6 V201.29999999999998 H998.5999999999999 L1003.0999999999999,205.79999999999998 V210.1 L998.5999999999999,214.6 H979.5 M994.4,214.6 L1003.0999999999999,219.6 V231.6M817.9000000000001,246.79999999999998 H835.8 L840.3,251.29999999999998 V267.7 L835.8,272.2 H817.9000000000001 ZM852.8000000000001,275.9 V246.79999999999998 H870.5999999999999 L875.0999999999999,251.29999999999998 V255.0 L870.5999999999999,259.5 H852.8000000000001 M866.92,259.5 L875.0999999999999,264.5 V275.9M888.1,243.1 V275.9M934.2,243.1 V275.9M946.1,275.9 V243.1 M946.1,245.1 L967.4,273.9 M967.4,275.9 V243.1M1008.0,246.79999999999998 H985.5 L981.0,251.29999999999998 V267.7 L985.5,272.2 H999.8 L1004.3,267.7 V260.5 H993.264M873.7,291.9 H850.1 L845.6,296.4 V313.9 L850.1,318.4 H873.7M884.0,291.9 H898.3 L902.8,296.4 V313.9 L898.3,318.4 H884.0 L879.5,313.9 V296.4 ZM940.4,291.9 H917.8000000000001 L913.3000000000001,296.4 V300.65 L917.8000000000001,305.15 H932.1999999999999 L936.6999999999999,309.65 V313.9 L932.1999999999999,318.4 H909.6M942.4,291.9 H976.2 M959.3,291.9 V322.09999999999997M1008.0,291.9 H986.5 L982.0,296.4 V300.65 L986.5,305.15 H999.8 L1004.3,309.65 V313.9 L999.8,318.4 H978.3" fill="none" stroke="#d61e2e" stroke-width="7.4" stroke-linejoin="miter" stroke-miterlimit="3"/>
<path d="M874.7,296.59999999999997 L867.4100000000001,296.59999999999997 L874.7,287.7 Z M874.7,313.70000000000005 L867.4100000000001,313.70000000000005 L874.7,322.6 Z M941.4,296.59999999999997 L934.11,296.59999999999997 L941.4,287.7 Z M908.6,313.70000000000005 L915.89,313.70000000000005 L908.6,322.6 Z M1009,296.59999999999997 L1001.71,296.59999999999997 L1009,287.7 Z M977.3,313.70000000000005 L984.5899999999999,313.70000000000005 L977.3,322.6 Z M1009,251.5 L1001.71,251.5 L1009,242.6 Z" fill="#b1b3b7"/>
<rect x="812" y="339.5" width="195" height="6.5" fill="#8d939a"/>
<text x="1006.3" y="390.1" font-family="Liberation Sans, sans-serif" font-size="36" font-weight="bold" fill="#1e5b92" text-anchor="end" textLength="83" lengthAdjust="spacingAndGlyphs" stroke="#1e5b92" stroke-width="0.9">2015</text>
<path d="M818.9,572.4V559.8L828.11,572.4V559.8M839.67,572.4H834.06L832.71,570.89V564.71L834.06,563.2H838.32L839.67,564.71V568.12H832.71M844.27,563.2V570.89L845.62,572.4H853.03L854.38,570.89V563.2M849.32,563.2V572.4M865.71,563.2H860.32L858.98,564.59V567.36L860.1,568.24H864.59L865.71,569.38V570.89L864.37,572.4H858.98M870.31,572.4V559.8H877.05L879.3,562.07V564.59L877.05,566.86H870.31M876.15,566.86L879.3,569.63V572.4M885.24,563.2H889.51L890.86,564.71V570.89L889.51,572.4H885.24L883.9,570.89V564.71ZM896.81,563.2H901.07L902.42,564.71V570.89L901.07,572.4H896.81L895.46,570.89V564.71ZM907.02,572.4V563.2H915.78L917.13,564.71V572.4M912.07,563.2V572.4M922.29,570.89V572.4M927.45,572.4V562.32L929.69,559.8H934.41L936.66,562.32V572.4M927.45,567.11H936.66M941.26,572.4V562.32L943.5,559.8H948.22L950.46,562.32V572.4M941.26,567.11H950.46M955.06,572.4V562.32L957.31,559.8H962.03L964.27,562.32V572.4M955.06,567.11H964.27M969.43,570.89V572.4M981.33,563.2H975.94L974.59,564.71V570.89L975.94,572.4H981.33M987.28,563.2H991.55L992.89,564.71V570.89L991.55,572.4H987.28L985.93,570.89V564.71ZM997.49,572.4V563.2H1006.25L1007.6,564.71V572.4M1002.55,563.2V572.4" fill="none" stroke="#d6202e" stroke-width="2.8" stroke-linejoin="miter" stroke-miterlimit="2"/></svg></body></html>
